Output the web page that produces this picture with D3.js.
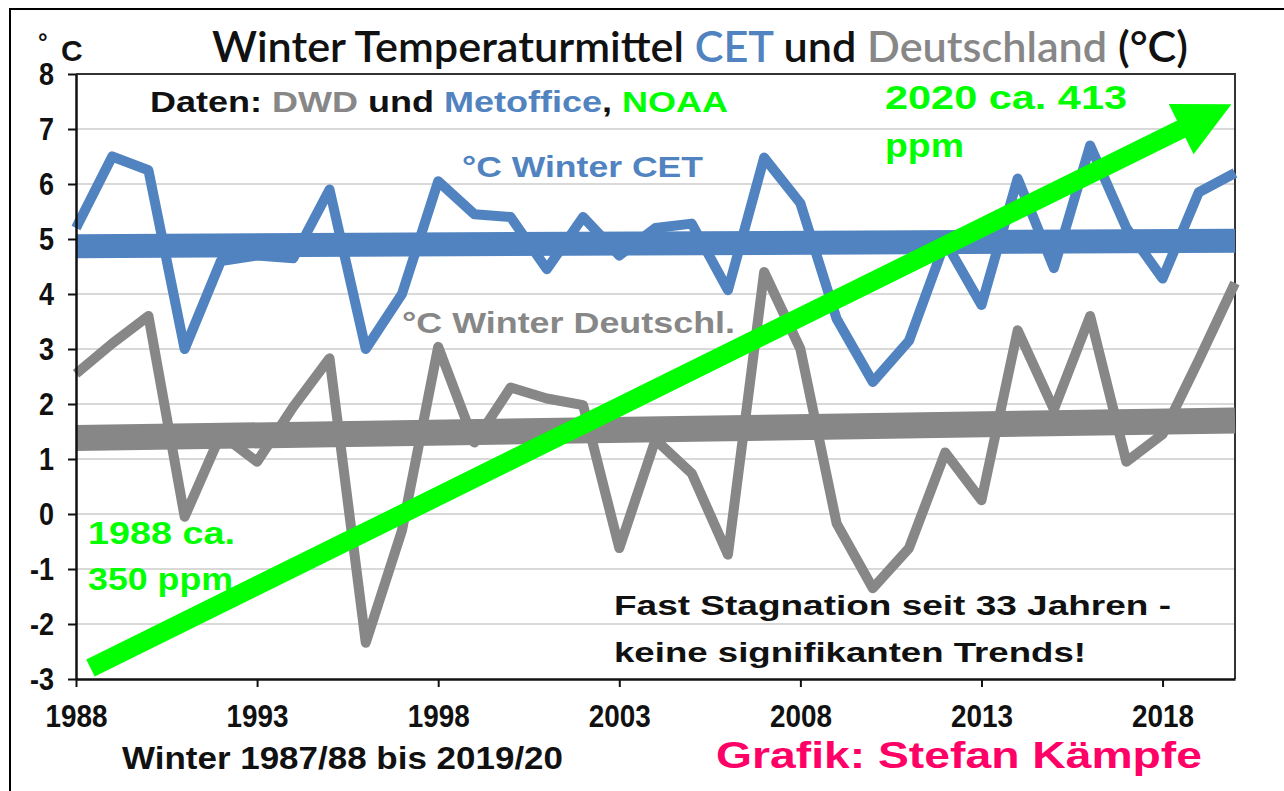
<!DOCTYPE html>
<html>
<head>
<meta charset="utf-8">
<script src="https://cdn.jsdelivr.net/npm/d3@7"></script>
<style>
  body { margin: 0; background: #fff; }
  svg { display: block; }
  .bold { font-family: "Liberation Sans", Arial, sans-serif; font-weight: bold; }
</style>
</head>
<body>
<div id="chart"></div>
<script>
// Winter 1987/88 bis 2019/20
const years = [1988, 1989, 1990, 1991, 1992, 1993, 1994, 1995, 1996, 1997, 1998,
  1999, 2000, 2001, 2002, 2003, 2004, 2005, 2006, 2007, 2008, 2009, 2010,
  2011, 2012, 2013, 2014, 2015, 2016, 2017, 2018, 2019, 2020];

const cetWinter = [5.2, 6.5, 6.25, 3.0, 4.6, 4.7, 4.65, 5.9, 3.0, 4.0, 6.05,
  5.45, 5.4, 4.45, 5.4, 4.7, 5.2, 5.28, 4.07, 6.48, 5.65, 3.55, 2.4,
  3.15, 4.95, 3.8, 6.1, 4.47, 6.7, 5.2, 4.28, 5.85, 6.2];

const deWinter = [2.55, 3.1, 3.6, -0.05, 1.45, 0.95, 1.95, 2.83, -2.34, -0.3, 3.04,
  1.3, 2.3, 2.1, 1.98, -0.62, 1.35, 0.74, -0.74, 4.4, 3.0, -0.17, -1.35,
  -0.62, 1.12, 0.25, 3.34, 1.9, 3.6, 0.95, 1.45, 2.8, 4.2];

// lineare Trends (Anfang/Ende)
const trendYears = [1988, 2020];
const cetTrend = [4.87, 4.97];
const deTrend = [1.38, 1.70];

// CO2 Pfeil
const co2Years = [1988.4, 2019.9];
const co2Values = [-2.8, 7.45];

const yTicks = [8, 7, 6, 5, 4, 3, 2, 1, 0, -1, -2, -3];
const xTicks = [1988, 1993, 1998, 2003, 2008, 2013, 2018];

const width = 1284, height = 791;
const blue = "#5083c0", grey = "#878787", green = "#00ff00", pink = "#ff0066";

const svg = d3.select("#chart").append("svg")
  .attr("width", width)
  .attr("height", height);

// outer frame
svg.append("path")
  .attr("d", "M10,800 L10,9 L1290,9")
  .attr("fill", "none")
  .attr("stroke", "#000")
  .attr("stroke-width", 2);

const x = d3.scaleLinear().domain([1988, 2020]).range([76, 1235]);
const y = d3.scaleLinear().domain([-3, 8]).range([679, 74]);

// gridlines
svg.append("g")
  .selectAll("line")
  .data(yTicks.filter(d => d !== 8 && d !== -3))
  .enter()
  .append("line")
  .attr("x1", x(1988))
  .attr("x2", x(2020))
  .attr("y1", d => y(d))
  .attr("y2", d => y(d))
  .attr("stroke", "#d9d9d9")
  .attr("stroke-width", 2);

// plot border top/right
svg.append("path")
  .attr("d", `M${x(1988)},${y(8)} L${x(2020)},${y(8)} L${x(2020)},${y(-3)}`)
  .attr("fill", "none")
  .attr("stroke", "#333")
  .attr("stroke-width", 2);

const line = d3.line()
  .x((d, i) => x(years[i]))
  .y(d => y(d))
  .curve(d3.curveLinear);

const trendLine = d3.line()
  .x((d, i) => x(trendYears[i]))
  .y(d => y(d));

svg.append("path")
  .attr("d", line(cetWinter))
  .attr("fill", "none")
  .attr("stroke", blue)
  .attr("stroke-width", 10)
  .attr("stroke-linejoin", "round");

svg.append("path")
  .attr("d", trendLine(cetTrend))
  .attr("fill", "none")
  .attr("stroke", blue)
  .attr("stroke-width", 24);

svg.append("path")
  .attr("d", line(deWinter))
  .attr("fill", "none")
  .attr("stroke", grey)
  .attr("stroke-width", 10)
  .attr("stroke-linejoin", "round");

svg.append("path")
  .attr("d", trendLine(deTrend))
  .attr("fill", "none")
  .attr("stroke", grey)
  .attr("stroke-width", 26);

// axes
const xAxis = svg.append("g")
  .attr("transform", `translate(0,${y(-3)})`)
  .call(d3.axisBottom(x).tickValues(xTicks).tickFormat(d => String(d)).tickSize(8).tickPadding(10).tickSizeOuter(0));
xAxis.select(".domain").attr("stroke", "#111").attr("stroke-width", 2.5);
xAxis.selectAll(".tick line").attr("stroke", "#111").attr("stroke-width", 2);
xAxis.selectAll(".tick text")
  .attr("class", "bold")
  .attr("fill", "#111")
  .style("font-size", "32px")
  .attr("dy", "0.95em")
  .attr("textLength", 62)
  .attr("lengthAdjust", "spacingAndGlyphs");

const yAxis = svg.append("g")
  .attr("transform", `translate(${x(1988)},0)`)
  .call(d3.axisLeft(y).tickValues(yTicks).tickFormat(d => String(d)).tickSize(8).tickPadding(14).tickSizeOuter(0));
yAxis.select(".domain").attr("stroke", "#111").attr("stroke-width", 2.5);
yAxis.selectAll(".tick line").attr("stroke", "#111").attr("stroke-width", 2);
yAxis.selectAll(".tick text")
  .attr("class", "bold")
  .attr("fill", "#111")
  .style("font-size", "32px")
  .attr("textLength", d => d < 0 ? 24 : 15)
  .attr("lengthAdjust", "spacingAndGlyphs");

// green CO2 arrow
const x0 = x(co2Years[0]), y0 = y(co2Values[0]);
const x1 = x(co2Years[1]), y1 = y(co2Values[1]);
const ang = Math.atan2(y1 - y0, x1 - x0);
const headLen = 56, headHalf = 28;
const bx = x1 - headLen * Math.cos(ang), by = y1 - headLen * Math.sin(ang);
svg.append("line")
  .attr("x1", x0).attr("y1", y0)
  .attr("x2", bx + 2 * Math.cos(ang)).attr("y2", by + 2 * Math.sin(ang))
  .attr("stroke", green)
  .attr("stroke-width", 19);
svg.append("polygon")
  .attr("points", [
    [x1, y1],
    [bx + headHalf * Math.sin(ang), by - headHalf * Math.cos(ang)],
    [bx - headHalf * Math.sin(ang), by + headHalf * Math.cos(ang)]
  ].map(p => p.join(",")).join(" "))
  .attr("fill", green);

// texts
function label(txt, px, py, size, color, len) {
  const t = svg.append("text")
    .attr("class", "bold")
    .attr("x", px).attr("y", py)
    .attr("fill", color)
    .style("font-size", size + "px")
    .text(txt);
  if (len) t.attr("textLength", len).attr("lengthAdjust", "spacingAndGlyphs");
  return t;
}

// unit
label("°", 38, 50, 24, "#111");
label("C", 61, 61, 30, "#111");

// title
const title = svg.append("text")
  .attr("x", 212).attr("y", 62)
  .style("font-family", "Lato, 'Open Sans', sans-serif")
  .style("font-weight", "600")
  .style("font-size", "42px")
  .attr("fill", "#111")
  .attr("textLength", 976)
  .attr("lengthAdjust", "spacingAndGlyphs");
title.append("tspan").text("Winter Temperaturmittel ");
title.append("tspan").attr("fill", blue).text("CET");
title.append("tspan").text(" und ");
title.append("tspan").attr("fill", grey).text("Deutschland");
title.append("tspan").text(" (°C)");

const daten = svg.append("text")
  .attr("class", "bold")
  .attr("x", 150).attr("y", 112)
  .attr("fill", "#111")
  .style("font-size", "29px")
  .attr("textLength", 578)
  .attr("lengthAdjust", "spacingAndGlyphs");
daten.append("tspan").text("Daten: ");
daten.append("tspan").attr("fill", grey).text("DWD");
daten.append("tspan").text(" und ");
daten.append("tspan").attr("fill", blue).text("Metoffice");
daten.append("tspan").text(", ");
daten.append("tspan").attr("fill", green).text("NOAA");

label("°C Winter CET", 462, 177, 30, blue, 241);
label("°C Winter Deutschl.", 402, 333, 30, grey, 333);

label("2020 ca. 413", 885, 109, 33, green, 242);
label("ppm", 885, 157, 33, green, 79);
label("1988 ca.", 88, 544, 31, green, 147);
label("350 ppm", 88, 590, 31, green, 145);

label("Fast Stagnation seit 33 Jahren -", 614, 615, 27, "#111", 557);
label("keine signifikanten Trends!", 614, 662, 27, "#111", 472);

svg.append("text")
  .attr("x", 122).attr("y", 769)
  .style("font-family", "'Liberation Sans', Arial, sans-serif")
  .style("font-size", "31px")
  .style("font-weight", "600")
  .attr("fill", "#111")
  .attr("textLength", 441)
  .attr("lengthAdjust", "spacingAndGlyphs")
  .text("Winter 1987/88 bis 2019/20");

label("Grafik: Stefan Kämpfe", 716, 768, 37, pink, 486);
</script>
</body>
</html>
